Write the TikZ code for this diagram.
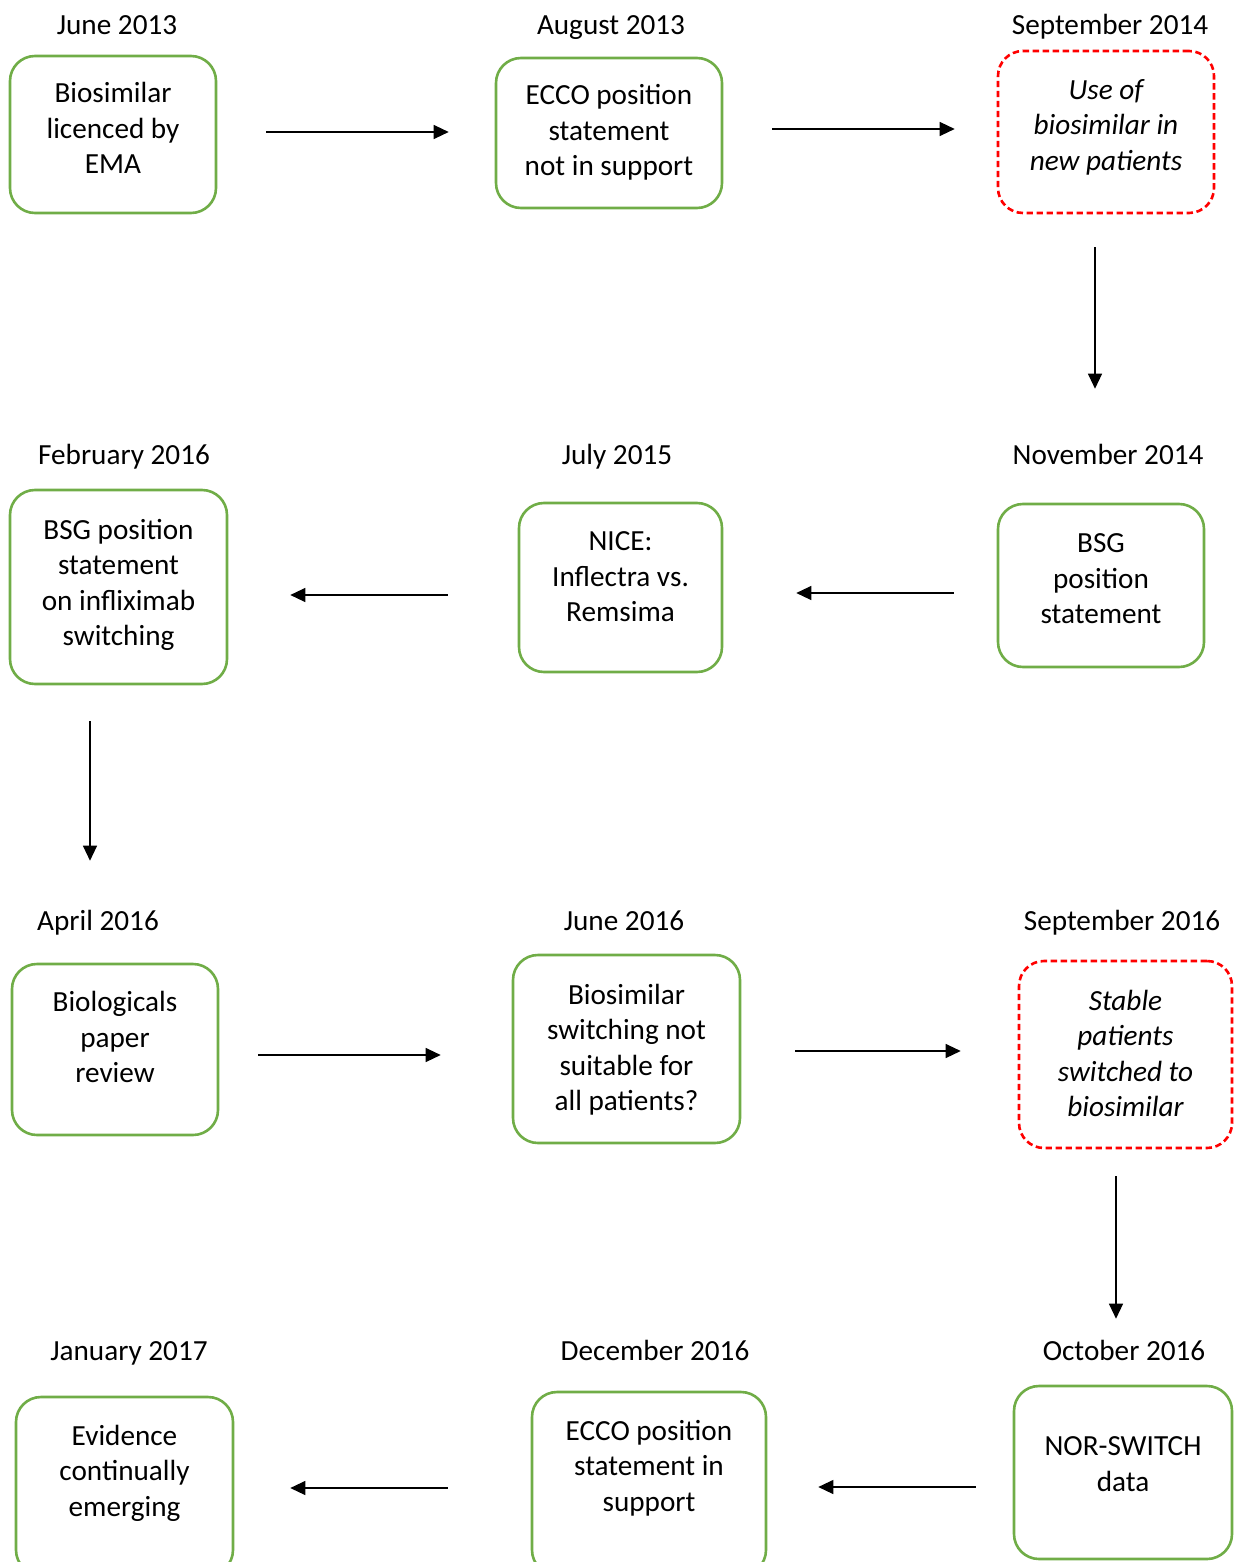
\documentclass[tikz,border=0pt]{standalone}
\usepackage{fontspec}
\setmainfont{Carlito}
\usetikzlibrary{arrows.meta,calc}
\definecolor{boxgreen}{HTML}{70AD47}
\newcommand{\bxt}[2]{\raisebox{#1}[\height][\depth]{\begin{tabular}{@{}c@{}}#2\end{tabular}}}
\begin{document}
\begin{tikzpicture}[x=0.5pt,y=-0.5pt,
  every node/.style={font=\fontsize{14.6pt}{17.75pt}\selectfont},
  gbox/.style={draw=boxgreen,line width=1.3pt,rounded corners=12.5pt,align=center,inner sep=0pt},
  rbox/.style={draw=red,line width=1.3pt,dashed,dash pattern=on 3.2pt off 1.8pt,rounded corners=12.5pt,align=center,inner sep=0pt,font=\fontsize{14.6pt}{17.75pt}\selectfont\itshape},
  date/.style={inner sep=0pt,anchor=base},
  arr/.style={-{Triangle[length=7.5pt,width=7pt]},line width=0.6pt}]
\useasboundingbox (0,0) rectangle (1246,1562);
% dates
\node[date] (d1) at (117,34.5) {June 2013};
\node[date] (d2) at (611,34.5) {August 2013};
\node[date] (d3) at (1110,34.5) {September 2014};
\node[date] (d4) at (1108,464.5) {November 2014};
\node[date] (d5) at (617,464.5) {July 2015};
\node[date] (d6) at (124,464.5) {February 2016};
\node[date] (d7) at (98,930.5) {April 2016};
\node[date] (d8) at (624,930.5) {June 2016};
\node[date] (d9) at (1122,930.5) {September 2016};
\node[date] (d10) at (1124,1360.5) {October 2016};
\node[date] (d11) at (655,1360.5) {December 2016};
\node[date] (d12) at (129,1360.5) {January 2017};
% boxes
\node[gbox,minimum width=103pt,minimum height=78.5pt] (b1) at (113,134.5) {\bxt{1.6pt}{Biosimilar\\licenced by\\EMA}};
\node[gbox,minimum width=113pt,minimum height=75pt] (b2) at (609,133) {\bxt{-0.2pt}{ECCO position\\statement\\not in support}};
\node[rbox,minimum width=108pt,minimum height=81pt] (b3) at (1106,132) {\bxt{2.2pt}{Use of\\biosimilar in\\new patients}};
\node[gbox,minimum width=103pt,minimum height=81.5pt] (b4) at (1101,585.5) {\bxt{2.3pt}{BSG\\position\\statement}};
\node[gbox,minimum width=101.5pt,minimum height=84.5pt] (b5) at (620.5,587.5) {\bxt{4.2pt}{NICE:\\Inflectra vs.\\Remsima}};
\node[gbox,minimum width=108.5pt,minimum height=97pt] (b6) at (118.5,587) {\bxt{0.7pt}{BSG position\\statement\\on infliximab\\switching}};
\node[gbox,minimum width=103pt,minimum height=85.5pt] (b7) at (115,1049.5) {\bxt{4.8pt}{Biologicals\\paper\\review}};
\node[gbox,minimum width=113.5pt,minimum height=94pt] (b8) at (626.5,1049) {\bxt{-0.7pt}{Biosimilar\\switching not\\suitable for\\all patients?}};
\node[rbox,minimum width=106.5pt,minimum height=93.5pt] (b9) at (1125.5,1054.5) {\bxt{-1pt}{Stable\\patients\\switched to\\biosimilar}};
\node[gbox,minimum width=109pt,minimum height=86.5pt] (b10) at (1123,1472.5) {\bxt{3pt}{NOR-SWITCH\\data}};
\node[gbox,minimum width=117pt,minimum height=91.5pt] (b11) at (649,1483.5) {\bxt{7.5pt}{ECCO position\\statement in\\support}};
\node[gbox,minimum width=108.5pt,minimum height=89pt] (b12) at (124.5,1486) {\bxt{6.3pt}{Evidence\\continually\\emerging}};
% arrows
\draw[arr] ($(b1.east)+(49,-2.5)$) -- ($(b2.west)+(-46,-1)$);
\draw[arr] ($(b2.east)+(49,-4)$) -- ($(b3.west)+(-42,-3)$);
\draw[arr] ($(b3.south)+(-11,33)$) -- ($(b4.north)+(-6,-114)$);
\draw[arr] ($(b4.west)+(-43,7.5)$) -- ($(b5.east)+(73,5.5)$);
\draw[arr] ($(b5.west)+(-70,7.5)$) -- ($(b6.east)+(62,8)$);
\draw[arr] ($(b6.south)+(-28.5,36)$) -- ($(b7.north)+(-25,-102)$);
\draw[arr] ($(b7.east)+(39,5.5)$) -- ($(b8.west)+(-71,6)$);
\draw[arr] ($(b8.east)+(54,2)$) -- ($(b9.west)+(-57,-3.5)$);
\draw[arr] ($(b9.south)+(-9.5,27)$) -- ($(b10.north)+(-7,-66)$);
\draw[arr] ($(b10.west)+(-37,14.5)$) -- ($(b11.east)+(51,3.5)$);
\draw[arr] ($(b11.west)+(-83,4.5)$) -- ($(b12.east)+(56,2)$);
\end{tikzpicture}
\end{document}
